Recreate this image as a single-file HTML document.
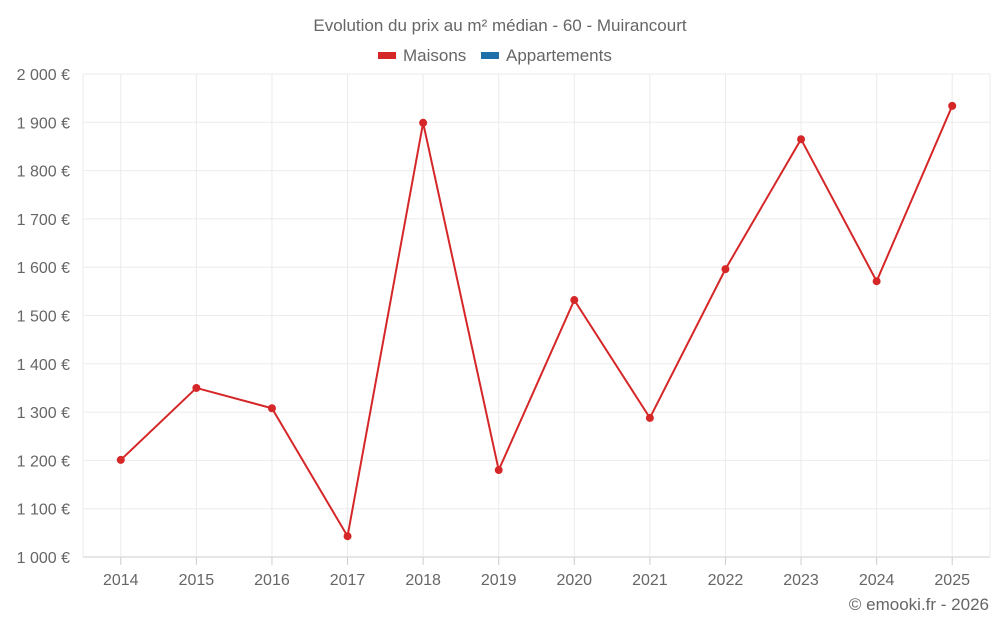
<!DOCTYPE html>
<html><head><meta charset="utf-8"><style>
body{margin:0;background:#fff;font-family:"Liberation Sans",Roboto,sans-serif;}
svg text{font-family:"Liberation Sans",sans-serif;fill:#666;}
</style></head><body>
<svg id="chart" width="1000" height="625" viewBox="0 0 1000 625">
<text x="500" y="31" text-anchor="middle" font-size="17">Evolution du prix au m² médian - 60 - Muirancourt</text>
<g><rect x="378" y="52" width="18" height="7" fill="#d62728"/><text x="403" y="61" font-size="17">Maisons</text></g>
<g><rect x="481" y="52" width="18" height="7" fill="#1f6fa8"/><text x="506" y="61" font-size="17">Appartements</text></g>
<g id="grid"></g><g id="axes"></g><g id="series"></g>
<text x="989" y="610" text-anchor="end" font-size="17">© emooki.fr - 2026</text>
</svg>
<script>
const years=["2014","2015","2016","2017","2018","2019","2020","2021","2022","2023","2024","2025"];
const maisons=[1201,1350,1308,1043,1899,1180,1532,1288,1596,1865,1571,1934];
const yTicks=[1000,1100,1200,1300,1400,1500,1600,1700,1800,1900,2000];
const NS="http://www.w3.org/2000/svg";
const L=83,R=990,T=74,B=557,ymin=1000,ymax=2000;
const bw=(R-L)/years.length;
const x=i=>L+bw*(i+0.5);
const y=v=>B-(v-ymin)/(ymax-ymin)*(B-T);
function mk(tag,attrs,parent){const e=document.createElementNS(NS,tag);for(const k in attrs)e.setAttribute(k,attrs[k]);parent.appendChild(e);return e;}
const grid=document.getElementById('grid'),axes=document.getElementById('axes'),ser=document.getElementById('series');
const fmt=v=>{const s=String(v);return s.slice(0,s.length-3)+" "+s.slice(-3)+" €";};
yTicks.forEach(v=>{
 const l=mk('line',{x1:L,x2:R,y1:y(v),y2:y(v),stroke:v===ymin?'#ccc':'#ebebeb'},grid);
 
 
 const t=mk('text',{x:70,y:y(v)+6,'text-anchor':'end','font-size':'16'},axes);
 t.textContent=fmt(v);
 
 
});
[L,R].forEach(gx=>{
 const l=mk('line',{x1:gx,x2:gx,y1:T,y2:B,stroke:'#ebebeb'},grid);
 
 
});
years.forEach((yr,i)=>{
 const g=mk('line',{x1:x(i),x2:x(i),y1:T,y2:B,stroke:'#ebebeb'},grid);
 
 
 const tk=mk('line',{x1:x(i),x2:x(i),y1:B,y2:B+8,stroke:'#ccc'},axes);
 
 
 const t=mk('text',{x:x(i),y:585,'text-anchor':'middle','font-size':'16'},axes);
 t.textContent=yr;
 
 
});
const p=mk('polyline',{points:maisons.map((v,i)=>x(i)+','+y(v)).join(' '),fill:'none',stroke:'#d62728','stroke-width':2},ser);


maisons.forEach((v,i)=>{
 const c=mk('circle',{cx:x(i),cy:y(v),r:4,fill:'#d62728'},ser);
 
 
});
</script>
</body></html>
